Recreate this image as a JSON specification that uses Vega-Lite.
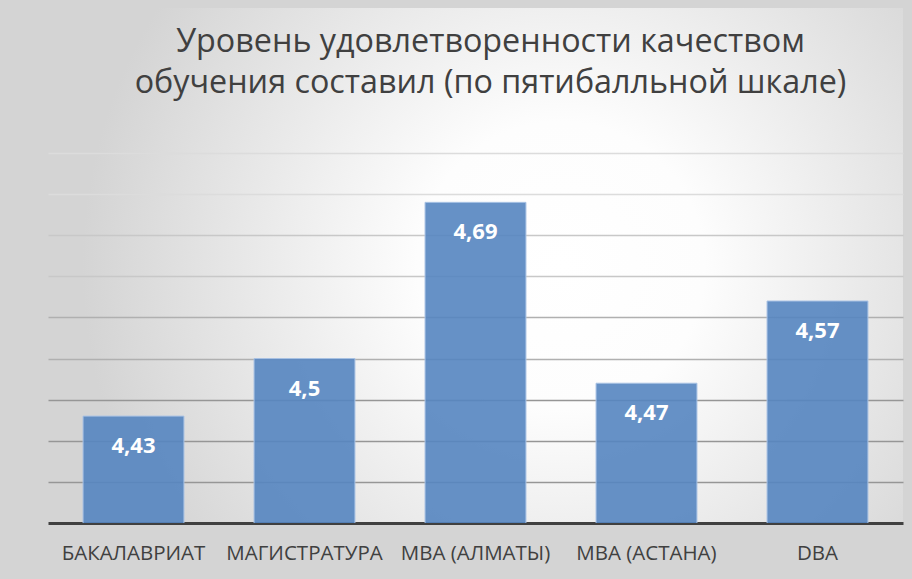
{
  "$schema": "https://vega.github.io/schema/vega-lite/v6.json",
  "width": 855,
  "height": 515,
  "autosize": {"type": "none"},
  "padding": {"left": 48, "top": 8, "right": 9, "bottom": 56},
  "background": "#d4d4d4",
  "view": {
    "stroke": null,
    "fill": {"expr": "{gradient: 'radial', x1: 0.6, y1: 0.5, r1: 0, x2: 0.6, y2: 0.5, r2: 0.56, stops: [{offset: 0, color: '#ffffff'}, {offset: 0.3, color: '#fdfdfd'}, {offset: 1, color: '#d4d4d4'}]}"}
  },
  "title": {
    "text": ["Уровень удовлетворенности качеством", "обучения составил (по пятибалльной шкале)"],
    "font": "Open Sans",
    "fontSize": 32.3,
    "fontWeight": "normal",
    "color": "#404040",
    "lineHeight": 41,
    "anchor": "middle",
    "frame": "group",
    "offset": -91,
    "dx": 15
  },
  "config": {
    "locale": {"number": {"decimal": ",", "thousands": " ", "grouping": [3], "currency": ["", ""]}}
  },
  "data": {
    "values": [
      {"program": "БАКАЛАВРИАТ", "score": 4.43},
      {"program": "МАГИСТРАТУРА", "score": 4.5},
      {"program": "MBA  (АЛМАТЫ)", "score": 4.69},
      {"program": "MBA (АСТАНА)", "score": 4.47},
      {"program": "DBA", "score": 4.57}
    ]
  },
  "encoding": {
    "x": {
      "field": "program",
      "type": "nominal",
      "sort": null,
      "scale": {"paddingInner": 0.41, "paddingOuter": 0.205},
      "axis": {
        "title": null,
        "labelAngle": 0,
        "ticks": false,
        "tickSize": 0,
        "domainColor": "#404040",
        "domainWidth": 3,
        "labelFont": "Open Sans",
        "labelFontSize": 20.5,
        "labelColor": "#404040",
        "labelPadding": 20,
        "labelOverlap": false,
        "labelLimit": 300
      }
    },
    "y": {
      "field": "score",
      "type": "quantitative",
      "scale": {"domain": [4.3, 4.9264], "nice": false, "zero": false},
      "axis": {
        "title": null,
        "labels": false,
        "ticks": false,
        "domain": false,
        "grid": true,
        "gridWidth": 1.5,
        "values": [4.35, 4.4, 4.45, 4.5, 4.55, 4.6, 4.65, 4.7, 4.75],
        "gridColor": {
          "condition": [
            {"test": "datum.value >= 4.7", "value": "#dcdcdc"},
            {"test": "datum.value >= 4.6", "value": "#c8c8c8"},
            {"test": "datum.value >= 4.5", "value": "#b0b0b0"}
          ],
          "value": "#969696"
        }
      }
    }
  },
  "layer": [
    {
      "mark": {"type": "bar", "clip": true, "color": "#5585c0", "fillOpacity": 0.9, "stroke": "#a8c2e4", "strokeWidth": 1}
    },
    {
      "mark": {"type": "text", "dy": 30, "baseline": "middle", "font": "Open Sans", "fontSize": 22, "fontWeight": "bold", "color": "#ffffff"},
      "encoding": {"text": {"field": "score", "type": "quantitative", "format": ".2~f"}}
    }
  ]
}
